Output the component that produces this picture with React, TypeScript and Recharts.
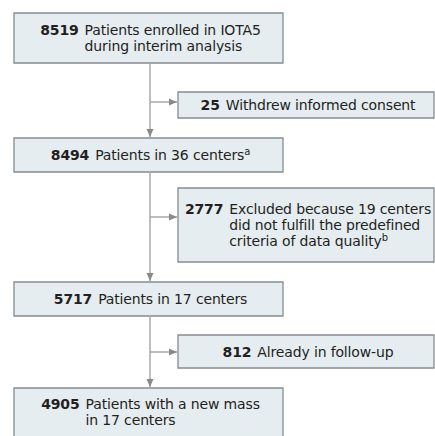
import React from "react";
import {
  ComposedChart,
  XAxis,
  YAxis,
  Scatter,
  ReferenceArea,
  ReferenceLine,
  ReferenceDot,
} from "recharts";

// flow steps, top to bottom
const counts = [8519, 25, 8494, 2777, 5717, 812, 4905];
const labels = [
  ["Patients enrolled in IOTA5", "during interim analysis"],
  ["Withdrew informed consent"],
  ["Patients in 36 centers"],
  ["Excluded because 19 centers", "did not fulfill the predefined", "criteria of data quality"],
  ["Patients in 17 centers"],
  ["Already in follow-up"],
  ["Patients with a new mass", "in 17 centers"],
];
const notes = ["", "", "a", "b", "", "", ""];
const isSide = [false, true, false, true, false, true, false];

// layout (pixel space of the 435x436 canvas)
const W = 435;
const H = 436;
const MAIN_X: [number, number] = [14, 283];
const SIDE_X: [number, number] = [178, 434];
const TRUNK_X = 150;
const boxY: [number, number][] = [
  [13, 63],
  [92, 118],
  [138, 172],
  [188, 262],
  [282, 316],
  [335, 368],
  [388, 450],
];
const branchY = [102, 217, 352];

const FILL = "#e5edf1";
const BORDER = "#868c91";
const LINE = "#a8a8a8";
const HEAD = "#8a8a8a";
const FONT = "'DejaVu Sans', sans-serif";

const boxX = (i: number) => (isSide[i] ? SIDE_X : MAIN_X);

// one point per step at its box centre; the text is drawn from it
const points = counts.map((n, i) => ({
  x: (boxX(i)[0] + boxX(i)[1]) / 2,
  y: (boxY[i][0] + boxY[i][1]) / 2,
  n,
  i,
}));

function StepText(props: any) {
  const { cx, cy, payload } = props;
  const i = payload.i;
  const [x1, x2] = boxX(i);
  const w = x2 - x1;
  // the last box runs off the bottom; its text sits in the visible part
  const h = i === counts.length - 1 ? 48 : boxY[i][1] - boxY[i][0];
  const top = i === counts.length - 1 ? boxY[i][0] : cy - h / 2;
  const lines = labels[i];
  const note = notes[i];
  return (
    <foreignObject x={cx - w / 2 + 2} y={top} width={w} height={h}>
      <div
        style={{
          width: "100%",
          height: "100%",
          display: "flex",
          alignItems: "center",
          justifyContent: "center",
          fontFamily: FONT,
          fontSize: 14,
          lineHeight: "16px",
          color: "#231f20",
          letterSpacing: -0.15,
        }}
      >
        <div style={{ display: "flex", alignItems: "flex-start" }}>
          <span style={{ fontWeight: 700, marginRight: 6 }}>{payload.n}</span>
          <div>
            {lines.map((l: string, k: number) => (
              <div key={k} style={{ whiteSpace: "nowrap" }}>
                {l}
                {k === lines.length - 1 && note ? (
                  <sup style={{ fontSize: 10, lineHeight: 0, verticalAlign: 5 }}>{note}</sup>
                ) : null}
              </div>
            ))}
          </div>
        </div>
      </div>
    </foreignObject>
  );
}

const downHead = (p: any) => (
  <path d={`M${p.cx - 3.5},${p.cy - 8} L${p.cx + 3.5},${p.cy - 8} L${p.cx},${p.cy} Z`} fill={HEAD} />
);
const rightHead = (p: any) => (
  <path d={`M${p.cx - 8},${p.cy - 3.5} L${p.cx - 8},${p.cy + 3.5} L${p.cx},${p.cy} Z`} fill={HEAD} />
);

export default function App() {
  const mainIdx = counts.map((_, i) => i).filter((i) => !isSide[i]);
  const sideIdx = counts.map((_, i) => i).filter((i) => isSide[i]);

  return (
    <div style={{ width: W, height: H, background: "#fff" }}>
      <style>{`body{margin:0}`}</style>
      <ComposedChart width={W} height={H} margin={{ top: 0, right: 0, bottom: 0, left: 0 }}>
        <XAxis type="number" dataKey="x" domain={[0, W]} hide allowDataOverflow />
        <YAxis type="number" dataKey="y" domain={[0, H]} reversed hide allowDataOverflow />

        {/* trunk segments between main boxes */}
        {mainIdx.slice(0, -1).map((i, k) => (
          <ReferenceLine
            key={`t${i}`}
            segment={[
              { x: TRUNK_X, y: boxY[i][1] },
              { x: TRUNK_X, y: boxY[mainIdx[k + 1]][0] - 1 },
            ]}
            stroke={LINE}
            strokeWidth={1.5}
          />
        ))}
        {mainIdx.slice(1).map((i) => (
          <ReferenceDot
            key={`dh${i}`}
            x={TRUNK_X}
            y={boxY[i][0] - 1}
            r={4}
            shape={downHead}
            ifOverflow="visible"
          />
        ))}

        {/* branches to side boxes */}
        {sideIdx.map((i, k) => (
          <ReferenceLine
            key={`b${i}`}
            segment={[
              { x: TRUNK_X, y: branchY[k] },
              { x: SIDE_X[0] - 1, y: branchY[k] },
            ]}
            stroke={LINE}
            strokeWidth={1.5}
          />
        ))}
        {sideIdx.map((i, k) => (
          <ReferenceDot
            key={`rh${i}`}
            x={SIDE_X[0] - 1}
            y={branchY[k]}
            r={4}
            shape={rightHead}
            ifOverflow="visible"
          />
        ))}

        {counts.map((_, i) => (
          <ReferenceArea
            key={`box${i}`}
            x1={boxX(i)[0]}
            x2={boxX(i)[1]}
            y1={boxY[i][0]}
            y2={boxY[i][1]}
            fill={FILL}
            fillOpacity={1}
            stroke={BORDER}
            strokeWidth={1.3}
            ifOverflow="visible"
          />
        ))}

        <Scatter data={points} dataKey="y" shape={StepText} isAnimationActive={false} />
      </ComposedChart>
    </div>
  );
}
